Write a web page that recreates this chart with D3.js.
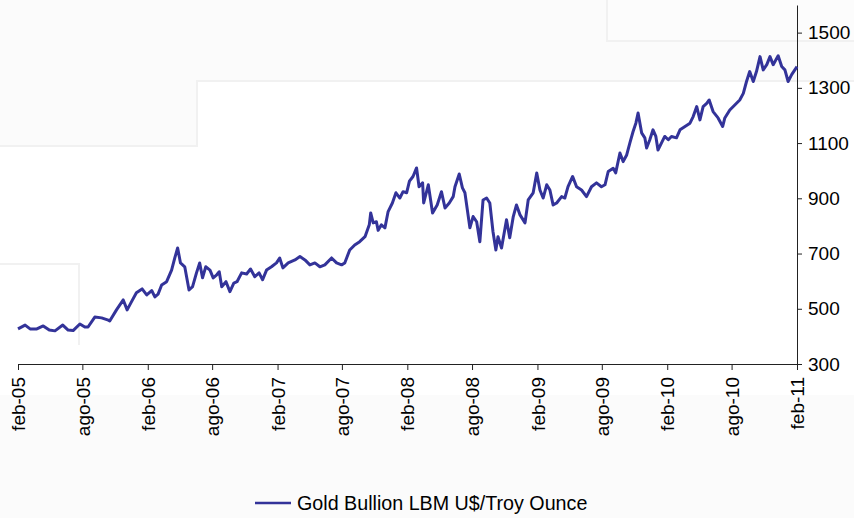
<!DOCTYPE html>
<html>
<head>
<meta charset="utf-8">
<script src="https://cdn.jsdelivr.net/npm/d3@7"></script>
<style>
  body { margin: 0; background: #fff; }
  svg { display: block; font-family: "Liberation Sans", Arial, sans-serif; }
</style>
</head>
<body>
<svg id="chart" width="854" height="518"></svg>
<script>
// gold price
const dates = [
  "2005-02-01","2005-02-21","2005-03-07","2005-03-26","2005-04-13","2005-04-30","2005-05-16","2005-06-07",
  "2005-06-22","2005-07-06","2005-07-25","2005-08-08","2005-08-17","2005-09-05","2005-09-24","2005-10-13",
  "2005-10-17","2005-11-05","2005-11-24","2005-12-05","2005-12-17","2005-12-31","2006-01-16","2006-01-29",
  "2006-02-12","2006-02-21","2006-03-02","2006-03-12","2006-03-26","2006-04-09","2006-04-18","2006-04-26",
  "2006-05-04","2006-05-16","2006-05-28","2006-06-07","2006-06-18","2006-06-27","2006-07-05","2006-07-14",
  "2006-07-26","2006-08-04","2006-08-14","2006-08-21","2006-08-28","2006-09-09","2006-09-20","2006-10-01",
  "2006-10-10","2006-10-23","2006-11-06","2006-11-17","2006-11-29","2006-12-11","2006-12-21","2007-01-01",
  "2007-01-15","2007-01-29","2007-02-07","2007-02-16","2007-03-03","2007-03-22","2007-04-05","2007-04-19",
  "2007-05-03","2007-05-17","2007-05-31","2007-06-14","2007-07-03","2007-07-17","2007-07-31","2007-08-09",
  "2007-08-23","2007-09-06","2007-09-20","2007-10-05","2007-10-17","2007-10-21","2007-10-28","2007-11-06",
  "2007-11-11","2007-11-20","2007-11-30","2007-12-09","2007-12-21","2007-12-31","2008-01-11","2008-01-20",
  "2008-01-30","2008-02-07","2008-02-17","2008-02-27","2008-03-05","2008-03-15","2008-03-18","2008-03-31",
  "2008-04-12","2008-04-25","2008-05-07","2008-05-17","2008-05-29","2008-06-09","2008-06-14","2008-06-26",
  "2008-07-05","2008-07-12","2008-07-26","2008-08-04","2008-08-14","2008-08-23","2008-09-01","2008-09-11",
  "2008-09-20","2008-09-29","2008-10-07","2008-10-13","2008-10-23","2008-11-06","2008-11-15","2008-11-25",
  "2008-12-04","2008-12-14","2008-12-28","2009-01-06","2009-01-20","2009-01-30","2009-02-08","2009-02-17",
  "2009-02-27","2009-03-08","2009-03-17","2009-03-27","2009-04-10","2009-04-19","2009-04-28","2009-05-11",
  "2009-05-22","2009-06-05","2009-06-19","2009-07-03","2009-07-17","2009-07-31","2009-08-10","2009-08-19",
  "2009-09-02","2009-09-09","2009-09-21","2009-09-30","2009-10-10","2009-10-19","2009-10-28","2009-11-05",
  "2009-11-11","2009-11-21","2009-11-30","2009-12-05","2009-12-14","2009-12-23","2009-12-31","2010-01-06",
  "2010-01-16","2010-01-25","2010-02-04","2010-02-13","2010-02-27","2010-03-09","2010-03-23","2010-04-06",
  "2010-04-15","2010-04-25","2010-05-04","2010-05-13","2010-05-23","2010-05-30","2010-06-10","2010-06-24",
  "2010-07-07","2010-07-13","2010-07-27","2010-08-10","2010-08-24","2010-09-03","2010-09-12","2010-09-21",
  "2010-10-01","2010-10-10","2010-10-20","2010-10-29","2010-11-08","2010-11-17","2010-11-26","2010-12-10",
  "2010-12-20","2010-12-29","2011-01-07","2011-01-17","2011-02-01"
]
const prices = [
  427,441,427,427,438,423,420,441,
  423,421,445,434,434,470,467,459,
  456,496,532,496,525,558,572,550,
  566,543,553,586,598,640,684,720,
  666,652,568,580,630,666,612,652,
  640,612,623,634,580,598,562,593,
  598,630,626,644,616,630,605,640,
  652,666,684,648,666,677,689,677,
  659,666,652,659,684,666,659,666,
  713,731,743,761,804,847,811,815,
  784,804,793,852,883,920,901,924,
  920,962,979,1010,942,956,883,949,
  847,876,924,865,883,906,942,988,
  938,920,793,834,815,743,894,901,
  883,779,713,761,720,822,757,834,
  876,840,811,894,920,992,930,901,
  949,930,876,883,906,901,942,979,
  942,930,906,942,956,942,949,997,
  1009,992,1064,1033,1057,1101,1142,1173,
  1209,1137,1119,1082,1112,1148,1124,1075,
  1101,1124,1112,1124,1119,1148,1160,1172,
  1196,1232,1184,1232,1244,1256,1214,1191,
  1160,1191,1220,1238,1256,1280,1323,1359,
  1323,1359,1413,1365,1384,1413,1384,1416,
  1377,1365,1323,1348,1377
]
const seriesName = "Gold Bullion LBM U$/Troy Ounce"
const yTicks = [300, 500, 700, 900, 1100, 1300, 1500]
const xTickDates = ["2005-02-01","2005-08-01","2006-02-01","2006-08-01","2007-02-01","2007-08-01",
  "2008-02-01","2008-08-01","2009-02-01","2009-08-01","2010-02-01","2010-08-01","2011-02-01"]
const monthNames = { 1: "feb", 7: "ago" }

const parse = d3.timeParse("%Y-%m-%d")
const data = dates.map((d, i) => ({ date: parse(d), value: prices[i] }))

const margin = { top: 5, right: 57, bottom: 154, left: 18 }
const width = 854, height = 518

const svg = d3.select("#chart")

// faint slide background
const bg = svg.append("g")
bg.append("rect").attr("x", 0).attr("y", 0).attr("width", 854).attr("height", 81).attr("fill", "#fbfbfb")
bg.append("rect").attr("x", 0).attr("y", 81).attr("width", 197).attr("height", 65).attr("fill", "#fbfbfb")
bg.append("rect").attr("x", 607).attr("y", 0).attr("width", 247).attr("height", 41).attr("fill", "#fcfcfc")
bg.append("rect").attr("x", 0).attr("y", 395).attr("width", 854).attr("height", 123).attr("fill", "#fbfbfb")
bg.append("path").attr("fill", "none").attr("stroke", "#f1f1f1").attr("stroke-width", 2)
  .attr("d", "M0,146H197V81H854 M607,0V41H854 M0,264H79V345")

const x = d3.scaleTime()
  .domain([parse("2005-02-01"), parse("2011-02-01")])
  .range([margin.left, width - margin.right])

const y = d3.scaleLinear()
  .domain([300, 1600])
  .range([height - margin.bottom, margin.top])

// x axis
const xAxis = svg.append("g")
  .attr("transform", `translate(0, ${height - margin.bottom})`)
  .call(d3.axisBottom(x)
    .tickValues(xTickDates.map(parse))
    .tickSize(6)
    .tickSizeOuter(0)
    .tickFormat(d => monthNames[d.getMonth()] + "-" + d3.timeFormat("%y")(d)))
xAxis.selectAll("text")
  .attr("transform", "rotate(-90)")
  .attr("text-anchor", "end")
  .attr("x", -13)
  .attr("y", 0)
  .attr("dy", "0.35em")
  .style("font-size", "19px")
  .attr("fill", "#000")

// y axis on the right
const yAxis = svg.append("g")
  .attr("transform", `translate(${width - margin.right}, 0)`)
  .call(d3.axisRight(y).tickValues(yTicks).tickFormat(d3.format("d"))
    .tickSize(5).tickSizeOuter(0).tickPadding(6))
yAxis.selectAll("text").style("font-size", "19px").attr("fill", "#000")

svg.selectAll(".domain, .tick line").attr("stroke", "#222")

// the series
const line = d3.line()
  .x(d => x(d.date))
  .y(d => y(d.value))

svg.append("path")
  .datum(data)
  .attr("fill", "none")
  .attr("stroke", "#333399")
  .attr("stroke-width", 3)
  .attr("stroke-linejoin", "round")
  .attr("d", line)

// legend
const legend = svg.append("g").attr("transform", "translate(255, 503)")
legend.append("line").attr("x1", 0).attr("x2", 36).attr("stroke", "#333399").attr("stroke-width", 2.5)
legend.append("text").attr("x", 42).attr("dy", "0.35em").style("font-size", "19.7px").text(seriesName)
</script>
</body>
</html>
